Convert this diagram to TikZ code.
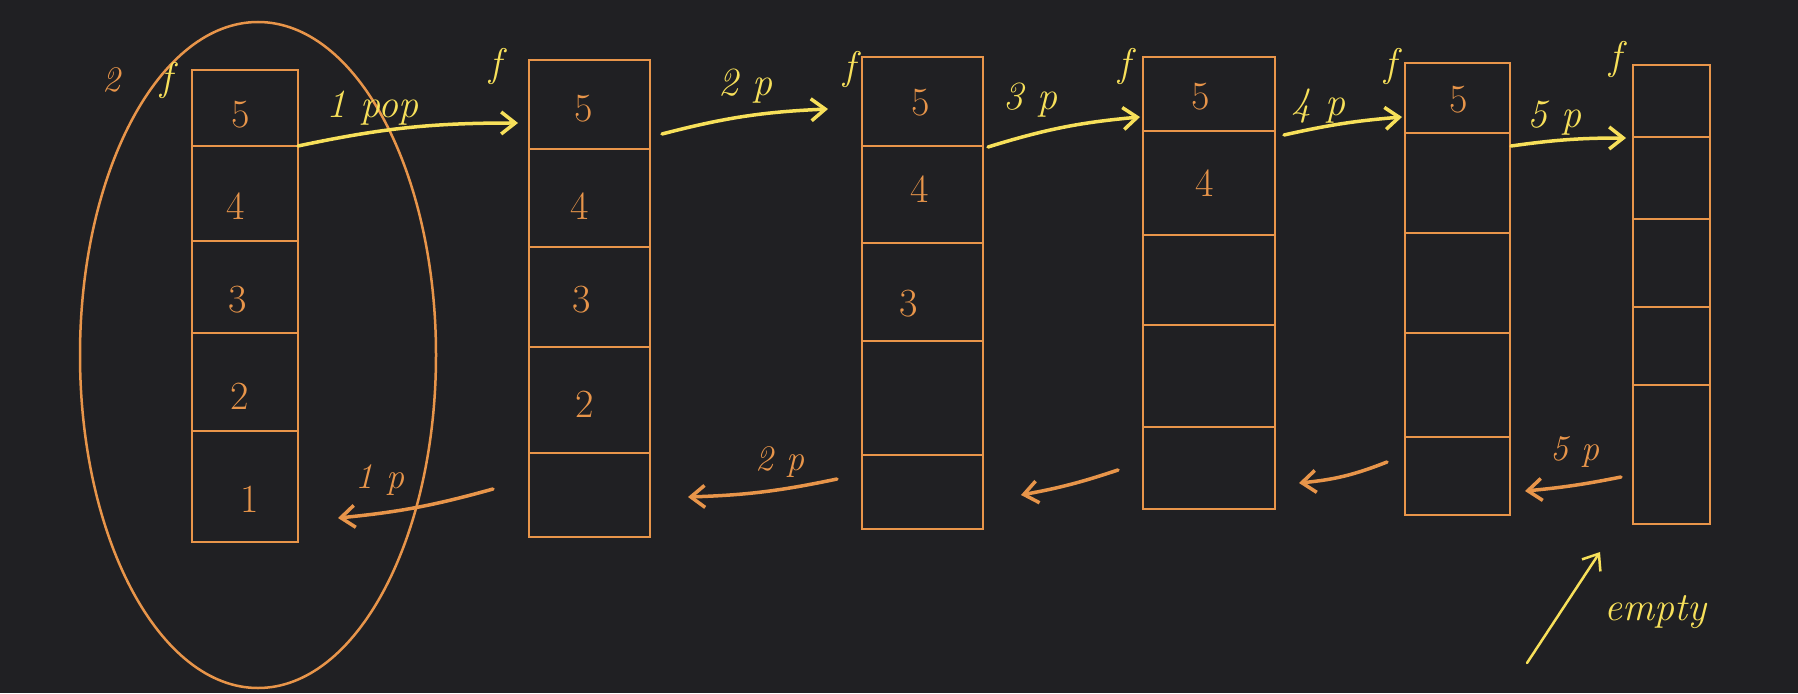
\documentclass[tikz,border=0pt]{standalone}
\usetikzlibrary{arrows.meta}
\definecolor{bg}{HTML}{202023}
\definecolor{org}{HTML}{E8954A}
\definecolor{yel}{HTML}{F7E05A}
\begin{document}
\begin{tikzpicture}[x=1pt,y=-1pt,
  stackbox/.style={draw=org,line width=2.2pt,rectangle,inner sep=0pt},
  divider/.style={draw=org,line width=2pt},
  val/.style={text=org,font=\fontsize{40}{44}\selectfont,inner sep=0pt},
  ylab/.style={text=yel,font=\itshape\fontsize{40}{44}\selectfont,inner sep=0pt},
  olab/.style={text=org,font=\itshape\fontsize{36}{40}\selectfont,inner sep=0pt},
  pusharrow/.style={draw=yel,line width=3.5pt,line cap=round,-{Straight Barb[length=14pt,width=22pt]}},
  poparrow/.style={draw=org,line width=3.5pt,line cap=round,-{Straight Barb[length=14pt,width=22pt]}}]
\fill[bg] (0,0) rectangle (1798,693);
\useasboundingbox (0,0) rectangle (1798,693);
% boxes
\node[stackbox,minimum width=106pt,minimum height=472pt] (b1) at (245,306) {};
\node[stackbox,minimum width=121pt,minimum height=477pt] (b2) at (589.5,298.5) {};
\node[stackbox,minimum width=121pt,minimum height=472pt] (b3) at (922.5,293) {};
\node[stackbox,minimum width=132pt,minimum height=452pt] (b4) at (1209,283) {};
\node[stackbox,minimum width=105pt,minimum height=452pt] (b5) at (1457.5,289) {};
\node[stackbox,minimum width=77pt,minimum height=459pt] (b6) at (1671.5,294.5) {};
% dividers
\foreach \y in {146,241,333,431} \draw[divider] (192,\y) -- (298,\y);
\foreach \y in {149,247,347,453} \draw[divider] (529,\y) -- (650,\y);
\foreach \y in {146,243,341,455} \draw[divider] (862,\y) -- (983,\y);
\foreach \y in {131,235,325,427} \draw[divider] (1143,\y) -- (1275,\y);
\foreach \y in {133,233,333,437} \draw[divider] (1405,\y) -- (1510,\y);
\foreach \y in {137,219,307,385} \draw[divider] (1633,\y) -- (1710,\y);
% values
\node[val] (v15) at (241,115) {5};
\node[val] (v14) at (236,206) {4};
\node[val] (v13) at (238,300) {3};
\node[val] (v12) at (240,396) {2};
\node[val] (v11) at (250,499) {1};
\node[val] (v25) at (584,109) {5};
\node[val] (v24) at (580,206) {4};
\node[val] (v23) at (582,300) {3};
\node[val] (v22) at (585,404) {2};
\node[val] (v35) at (921,103) {5};
\node[val] (v34) at (920,189) {4};
\node[val] (v33) at (909,304) {3};
\node[val] (v45) at (1201,97) {5};
\node[val] (v44) at (1205,183) {4};
\node[val] (v55) at (1459,100) {5};
% ellipse
\draw[org,line width=2.5pt] (258,355) ellipse [x radius=178pt,y radius=333pt];
% top labels
\node[olab] (l2) at (111,80) {2};
\node[ylab] (f1) at (166,80) {f};
\node[ylab] (pop) at (372,108) {1 pop};
\node[ylab] (f2) at (495,66) {f};
\node[ylab] (p2) at (745,86) {2 p};
\node[ylab] (f3) at (849,69) {f};
\node[ylab] (p3) at (1030,100) {3 p};
\node[ylab] (f4) at (1124,66) {f};
\node[ylab] (p4) at (1318,106) {4 p};
\node[ylab] (f5) at (1390,66) {f};
\node[ylab] (p5) at (1554,118) {5 p};
\node[ylab] (f6) at (1615,60) {f};
% push arrow end points
\coordinate (a1s) at (298,146); \coordinate (a1e) at (518,123);
\coordinate (a2s) at (662,134); \coordinate (a2e) at (828,109);
\coordinate (a3s) at (988,147); \coordinate (a3e) at (1140,117);
\coordinate (a4s) at (1284,135); \coordinate (a4e) at (1402,117);
\coordinate (a5s) at (1511,146); \coordinate (a5e) at (1626,138);
\draw[pusharrow] (a1s) to[bend left=6] (a1e);
\draw[pusharrow] (a2s) to[bend left=6] (a2e);
\draw[pusharrow] (a3s) to[bend left=6] (a3e);
\draw[pusharrow] (a4s) to[bend left=4] (a4e);
\draw[pusharrow] (a5s) to[bend left=4] (a5e);
% pop arrows
\coordinate (r1s) at (1621,477); \coordinate (r1e) at (1525,491);
\coordinate (r2s) at (1387,462); \coordinate (r2e) at (1299,483);
\coordinate (r3s) at (1118,470); \coordinate (r3e) at (1021,495);
\coordinate (r4s) at (837,479); \coordinate (r4e) at (688,497);
\coordinate (r5s) at (493,489); \coordinate (r5e) at (338,518);
\draw[poparrow] (r1s) to[bend left=3] (r1e);
\draw[poparrow] (r2s) to[bend left=8] (r2e);
\draw[poparrow] (r3s) to[bend left=4] (r3e);
\draw[poparrow] (r4s) to[bend left=5] (r4e);
\draw[poparrow] (r5s) to[bend left=5] (r5e);
\node[olab] (q5) at (1575,452) {5 p};
\node[olab] (q2) at (780,462) {2 p};
\node[olab] (q1) at (380,480) {1 p};
% empty
\node[ylab] (empty) at (1655,612) {empty};
\coordinate (es) at (1527,663);
\coordinate (ee) at (1600,552);
\draw[pusharrow,line width=2.5pt] (es) -- (ee);
\end{tikzpicture}
\end{document}
